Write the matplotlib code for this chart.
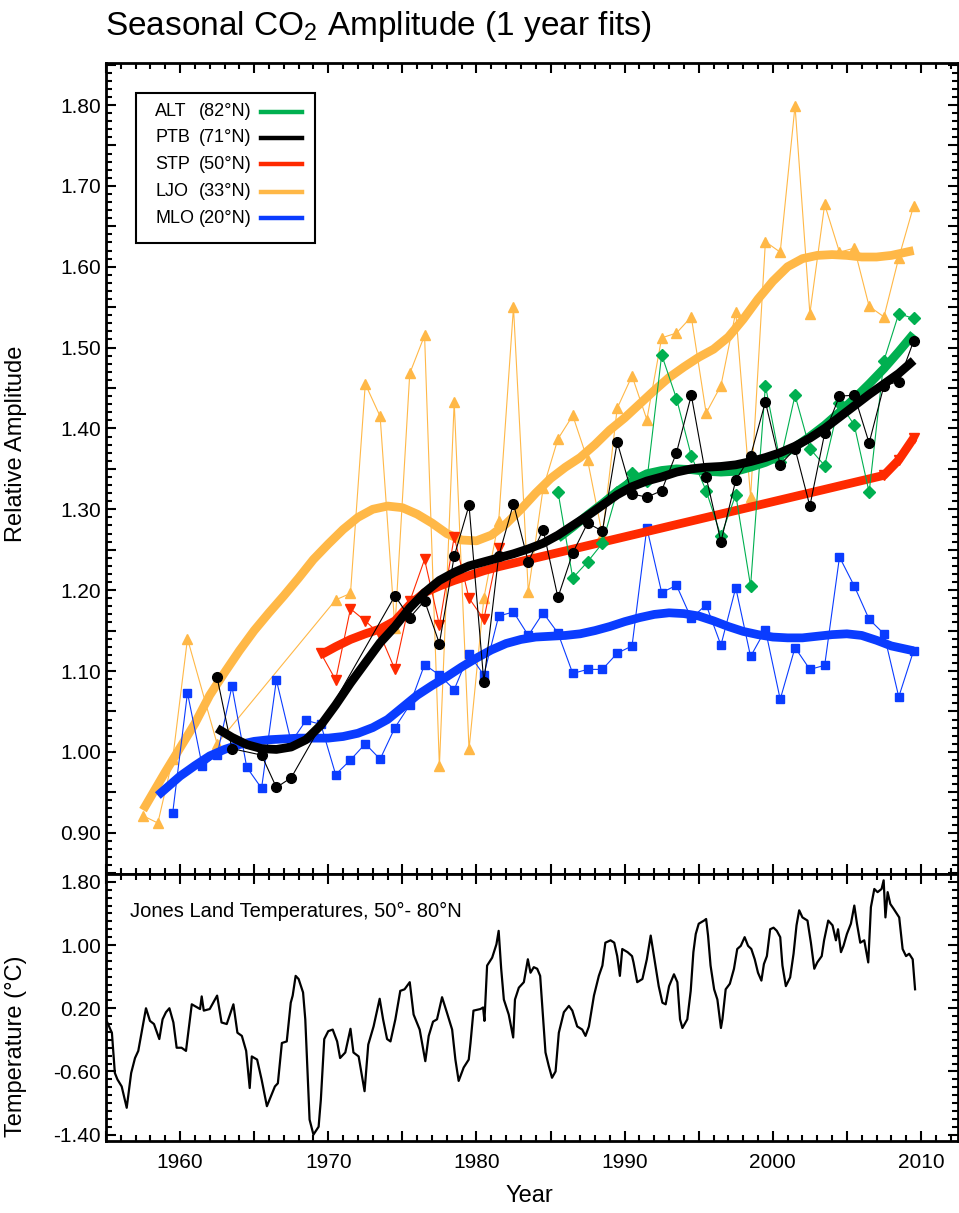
import numpy as np
import matplotlib
matplotlib.use('Agg')
from matplotlib import pyplot as plt
from matplotlib.ticker import MultipleLocator, FixedLocator, FuncFormatter
from matplotlib.lines import Line2D
from matplotlib.patches import Rectangle

plt.rcParams['font.family'] = 'Liberation Sans'
plt.rcParams['mathtext.fontset'] = 'custom'
plt.rcParams['mathtext.rm'] = 'Liberation Sans'

# ---- annual amplitudes (year centres) ----
ljo_yr = [1957.5, 1958.5, 1959.5, 1960.5, 1962.5, 1970.5, 1971.5, 1972.5, 1973.5, 1974.5,
          1975.5, 1976.5, 1977.5, 1978.5, 1979.5, 1980.5, 1981.5, 1982.5, 1983.5, 1984.5,
          1985.5, 1986.5, 1987.5, 1988.5, 1989.5, 1990.5, 1991.5, 1992.5, 1993.5, 1994.5,
          1995.5, 1996.5, 1997.5, 1998.5, 1999.5, 2000.5, 2001.5, 2002.5, 2003.5, 2004.5,
          2005.5, 2006.5, 2007.5, 2008.5, 2009.5]
ljo_val = [0.921, 0.912, 0.991, 1.140, 1.010, 1.188, 1.196, 1.455, 1.415, 1.153,
           1.468, 1.515, 0.982, 1.433, 1.003, 1.190, 1.285, 1.550, 1.198, 1.326,
           1.387, 1.416, 1.361, 1.268, 1.425, 1.465, 1.411, 1.512, 1.518, 1.538,
           1.419, 1.453, 1.544, 1.315, 1.631, 1.618, 1.799, 1.542, 1.677, 1.618,
           1.623, 1.551, 1.538, 1.611, 1.675]

mlo_yr = [1959.5, 1960.5, 1961.5, 1962.5, 1963.5, 1964.5, 1965.5, 1966.5, 1967.5, 1968.5,
          1969.5, 1970.5, 1971.5, 1972.5, 1973.5, 1974.5, 1975.5, 1976.5, 1977.5, 1978.5,
          1979.5, 1980.5, 1981.5, 1982.5, 1983.5, 1984.5, 1985.5, 1986.5, 1987.5, 1988.5,
          1989.5, 1990.5, 1991.5, 1992.5, 1993.5, 1994.5, 1995.5, 1996.5, 1997.5, 1998.5,
          1999.5, 2000.5, 2001.5, 2002.5, 2003.5, 2004.5, 2005.5, 2006.5, 2007.5, 2008.5,
          2009.5]
mlo_val = [0.924, 1.073, 0.982, 0.996, 1.081, 0.981, 0.955, 1.089, 1.012, 1.039,
           1.034, 0.972, 0.990, 1.010, 0.991, 1.030, 1.058, 1.108, 1.095, 1.077,
           1.121, 1.095, 1.168, 1.173, 1.144, 1.172, 1.147, 1.097, 1.102, 1.102,
           1.122, 1.131, 1.277, 1.197, 1.206, 1.165, 1.182, 1.132, 1.203, 1.118,
           1.151, 1.065, 1.129, 1.102, 1.107, 1.241, 1.205, 1.164, 1.146, 1.068,
           1.125]

stp_yr = [1969.5, 1970.5, 1971.5, 1972.5, 1973.5, 1974.5, 1975.5, 1976.5, 1977.5, 1978.5,
          1979.5, 1980.5, 1981.5, 2007.5, 2008.5, 2009.5]
stp_val = [1.122, 1.089, 1.177, 1.162, 1.145, 1.102, 1.186, 1.238, 1.157, 1.266,
           1.190, 1.164, 1.252, 1.342, 1.361, 1.388]

ptb_yr = [1962.5, 1963.5, 1965.5, 1966.5, 1967.5, 1974.5, 1975.5, 1976.5, 1977.5, 1978.5,
          1979.5, 1980.5, 1981.5, 1982.5, 1983.5, 1984.5, 1985.5, 1986.5, 1987.5, 1988.5,
          1989.5, 1990.5, 1991.5, 1992.5, 1993.5, 1994.5, 1995.5, 1996.5, 1997.5, 1998.5,
          1999.5, 2000.5, 2001.5, 2002.5, 2003.5, 2004.5, 2005.5, 2006.5, 2007.5, 2008.5,
          2009.5]
ptb_val = [1.092, 1.004, 0.996, 0.956, 0.968, 1.193, 1.166, 1.187, 1.134, 1.242,
           1.305, 1.086, 1.242, 1.307, 1.235, 1.275, 1.191, 1.246, 1.283, 1.273,
           1.383, 1.319, 1.315, 1.323, 1.370, 1.441, 1.340, 1.260, 1.336, 1.366,
           1.433, 1.355, 1.375, 1.304, 1.394, 1.440, 1.441, 1.382, 1.453, 1.458,
           1.508]

alt_yr = [1985.5, 1986.5, 1987.5, 1988.5, 1989.5, 1990.5, 1991.5, 1992.5, 1993.5, 1994.5,
          1995.5, 1996.5, 1997.5, 1998.5, 1999.5, 2000.5, 2001.5, 2002.5, 2003.5, 2004.5,
          2005.5, 2006.5, 2007.5, 2008.5, 2009.5]
alt_val = [1.322, 1.215, 1.235, 1.258, 1.322, 1.345, 1.335, 1.491, 1.437, 1.366,
           1.323, 1.267, 1.318, 1.205, 1.453, 1.359, 1.441, 1.375, 1.354, 1.432,
           1.404, 1.321, 1.484, 1.542, 1.536]

# ---- smooth fits ----
ljo_fit_yr = [1957.5, 1959, 1960, 1961, 1962, 1963, 1964, 1965, 1966, 1967, 1968, 1969,
              1970, 1971, 1972, 1973, 1974, 1975, 1976, 1977, 1978, 1979, 1980, 1981,
              1982, 1983, 1984, 1985, 1986, 1987, 1988, 1989, 1990, 1991, 1992, 1993,
              1994, 1995, 1996, 1997, 1998, 1999, 2000, 2001, 2002, 2003, 2004, 2005,
              2006, 2007, 2008, 2009.5]
ljo_fit = [0.928, 0.975, 1.005, 1.035, 1.070, 1.098, 1.125, 1.150, 1.172, 1.193, 1.215, 1.238,
           1.257, 1.275, 1.290, 1.300, 1.304, 1.302, 1.294, 1.283, 1.270, 1.262, 1.261, 1.268,
           1.282, 1.300, 1.320, 1.338, 1.352, 1.364, 1.380, 1.398, 1.413, 1.430, 1.447, 1.463,
           1.476, 1.488, 1.498, 1.513, 1.535, 1.560, 1.582, 1.600, 1.610, 1.614, 1.615, 1.614,
           1.612, 1.612, 1.614, 1.620]

mlo_fit_yr = [1958.5, 1960, 1961, 1962, 1963, 1964, 1965, 1966, 1967, 1968, 1969, 1970,
              1971, 1972, 1973, 1974, 1975, 1976, 1977, 1978, 1979, 1980, 1981, 1982,
              1983, 1984, 1985, 1986, 1987, 1988, 1989, 1990, 1991, 1992, 1993, 1994,
              1995, 1996, 1997, 1998, 1999, 2000, 2001, 2002, 2003, 2004, 2005, 2006,
              2007, 2008, 2009.5]
mlo_fit = [0.946, 0.970, 0.983, 0.995, 1.003, 1.009, 1.013, 1.015, 1.016, 1.017, 1.017, 1.017,
           1.019, 1.023, 1.030, 1.040, 1.055, 1.070, 1.082, 1.093, 1.105, 1.116, 1.126, 1.134,
           1.139, 1.142, 1.143, 1.144, 1.146, 1.150, 1.155, 1.161, 1.166, 1.170, 1.172, 1.171,
           1.168, 1.162, 1.155, 1.149, 1.145, 1.142, 1.141, 1.141, 1.143, 1.145, 1.146, 1.144,
           1.138, 1.131, 1.125]

stp_fit_yr = [1969.5, 1970.5, 1971.5, 1972.5, 1973.5, 1974.5, 1975.5, 1976.5, 1977.5,
              1978.5, 1979.5, 1980.5, 1981.5, 2007.5, 2008.5, 2009.5]
stp_fit = [1.120, 1.130, 1.139, 1.146, 1.152, 1.162, 1.182, 1.197, 1.205,
           1.212, 1.218, 1.224, 1.229, 1.342, 1.361, 1.388]

ptb_fit_yr = [1962.5, 1963.5, 1964.5, 1965.5, 1966.5, 1967.5, 1968.5, 1969.5, 1970.5,
              1971.5, 1972.5, 1973.5, 1974.5, 1975.5, 1976.5, 1977.5, 1978.5, 1979.5,
              1980.5, 1981.5, 1982.5, 1983.5, 1984.5, 1985.5, 1986.5, 1987.5, 1988.5,
              1989.5, 1990.5, 1991.5, 1992.5, 1993.5, 1994.5, 1995.5, 1996.5, 1997.5,
              1998.5, 1999.5, 2000.5, 2001.5, 2002.5, 2003.5, 2004.5, 2005.5, 2006.5,
              2007.5, 2008.5, 2009.5]
ptb_fit = [1.029, 1.018, 1.009, 1.004, 1.003, 1.006, 1.015, 1.033, 1.058,
           1.085, 1.110, 1.135, 1.155, 1.178, 1.197, 1.212, 1.222, 1.230,
           1.235, 1.240, 1.245, 1.251, 1.258, 1.268, 1.280, 1.292, 1.305,
           1.318, 1.328, 1.335, 1.340, 1.346, 1.350, 1.352, 1.353, 1.355,
           1.359, 1.364, 1.370, 1.378, 1.388, 1.400, 1.414, 1.428, 1.442,
           1.455, 1.468, 1.484]

alt_fit_yr = [1985.5, 1986.5, 1987.5, 1988.5, 1989.5, 1990.5, 1991.5, 1992.5, 1993.5,
              1994.5, 1995.5, 1996.5, 1997.5, 1998.5, 1999.5, 2000.5, 2001.5, 2002.5,
              2003.5, 2004.5, 2005.5, 2006.5, 2007.5, 2008.5, 2009.5]
alt_fit = [1.264, 1.278, 1.293, 1.307, 1.322, 1.335, 1.344, 1.348, 1.350,
           1.349, 1.347, 1.346, 1.347, 1.352, 1.358, 1.366, 1.377, 1.390,
           1.404, 1.420, 1.437, 1.455, 1.474, 1.495, 1.517]

# ---- Jones land temperatures 50-80N (smoothed anomaly) ----
temp_yr = [1955.09, 1955.40, 1955.60, 1955.77, 1956.06, 1956.40, 1956.70, 1956.96, 1957.18, 1957.40,
           1957.70, 1957.97, 1958.24, 1958.60, 1958.82, 1959.05, 1959.28, 1959.55, 1959.77, 1960.10,
           1960.40, 1960.79, 1961.35, 1961.46, 1961.60, 1962.00, 1962.50, 1962.80, 1963.15, 1963.60,
           1963.87, 1964.17, 1964.46, 1964.70, 1964.84, 1965.20, 1965.50, 1965.86, 1966.10, 1966.40,
           1966.60, 1966.87, 1967.20, 1967.47, 1967.60, 1967.80, 1968.00, 1968.30, 1968.45, 1968.74,
           1969.00, 1969.35, 1969.50, 1969.73, 1970.00, 1970.30, 1970.60, 1970.80, 1971.15, 1971.50,
           1971.70, 1972.05, 1972.45, 1972.70, 1973.06, 1973.47, 1973.70, 1973.97, 1974.20, 1974.53,
           1974.86, 1975.15, 1975.50, 1975.76, 1976.17, 1976.55, 1976.78, 1977.07, 1977.34, 1977.68,
           1978.00, 1978.36, 1978.58, 1978.80, 1979.14, 1979.48, 1979.60, 1979.80, 1980.27, 1980.45,
           1980.54, 1980.72, 1981.06, 1981.35, 1981.50, 1981.67, 1981.85, 1982.18, 1982.48, 1982.60,
           1982.86, 1983.20, 1983.47, 1983.65, 1983.87, 1984.10, 1984.30, 1984.66, 1984.88, 1985.10,
           1985.34, 1985.56, 1985.90, 1986.24, 1986.47, 1986.80, 1987.14, 1987.36, 1987.59, 1987.93,
           1988.26, 1988.50, 1988.70, 1989.05, 1989.30, 1989.50, 1989.68, 1989.84, 1990.20, 1990.50,
           1990.60, 1990.85, 1991.20, 1991.50, 1991.76, 1991.98, 1992.30, 1992.55, 1992.77, 1993.00,
           1993.33, 1993.56, 1993.74, 1993.90, 1994.23, 1994.46, 1994.64, 1994.80, 1995.00, 1995.36,
           1995.50, 1995.63, 1995.80, 1996.04, 1996.26, 1996.50, 1996.60, 1996.82, 1997.10, 1997.38,
           1997.60, 1997.84, 1998.10, 1998.33, 1998.55, 1998.78, 1999.00, 1999.23, 1999.40, 1999.60,
           1999.82, 2000.05, 2000.27, 2000.50, 2000.65, 2000.88, 2001.17, 2001.40, 2001.60, 2001.78,
           2002.00, 2002.34, 2002.57, 2002.80, 2003.00, 2003.30, 2003.46, 2003.74, 2004.03, 2004.26,
           2004.40, 2004.60, 2004.77, 2005.00, 2005.27, 2005.50, 2005.68, 2005.90, 2006.17, 2006.44,
           2006.62, 2006.85, 2007.07, 2007.34, 2007.48, 2007.60, 2007.75, 2007.93, 2008.15, 2008.53,
           2008.76, 2008.99, 2009.20, 2009.44, 2009.60]
temp_val = [0.02, -0.11, -0.62, -0.70, -0.79, -1.06, -0.62, -0.43, -0.34, -0.11,
            0.20, 0.04, 0.00, -0.19, 0.06, 0.15, 0.20, 0.02, -0.30, -0.30,
            -0.34, 0.25, 0.19, 0.35, 0.17, 0.19, 0.36, 0.02, 0.00, 0.25,
            -0.11, -0.15, -0.34, -0.81, -0.41, -0.45, -0.70, -1.04, -0.93, -0.79,
            -0.75, -0.24, -0.22, 0.27, 0.36, 0.61, 0.57, 0.40, 0.06, -1.21,
            -1.40, -1.30, -0.96, -0.19, -0.09, -0.07, -0.22, -0.43, -0.36, -0.06,
            -0.36, -0.41, -0.85, -0.26, -0.03, 0.32, 0.06, -0.19, -0.22, 0.06,
            0.42, 0.44, 0.53, 0.12, -0.07, -0.47, -0.15, 0.03, 0.06, 0.34,
            0.15, -0.07, -0.45, -0.72, -0.55, -0.45, -0.24, 0.17, 0.19, 0.21,
            0.04, 0.74, 0.84, 1.01, 1.18, 0.70, 0.31, 0.12, -0.17, 0.31,
            0.46, 0.53, 0.82, 0.65, 0.72, 0.70, 0.61, -0.36, -0.53, -0.68,
            -0.60, -0.11, 0.15, 0.23, 0.17, -0.03, -0.07, -0.15, -0.03, 0.36,
            0.61, 0.74, 1.03, 1.06, 1.03, 0.86, 0.61, 0.95, 0.91, 0.86,
            0.78, 0.53, 0.57, 0.82, 1.12, 0.86, 0.48, 0.27, 0.25, 0.48,
            0.63, 0.53, 0.06, -0.05, 0.06, 0.42, 0.91, 1.14, 1.27, 1.31,
            1.33, 1.12, 0.74, 0.44, 0.31, -0.05, 0.06, 0.44, 0.51, 0.70,
            0.95, 0.99, 1.10, 0.99, 0.95, 0.82, 0.65, 0.55, 0.76, 0.86,
            1.20, 1.22, 1.18, 1.10, 0.74, 0.48, 0.59, 0.89, 1.25, 1.44,
            1.35, 1.31, 1.03, 0.70, 0.78, 0.86, 1.06, 1.31, 1.25, 1.06,
            1.20, 0.91, 0.99, 1.14, 1.27, 1.50, 1.27, 1.03, 1.06, 0.78,
            1.48, 1.71, 1.67, 1.71, 1.82, 1.35, 1.67, 1.52, 1.46, 1.35,
            0.95, 0.86, 0.89, 0.82, 0.44]

stations = ['ALT', 'PTB', 'STP', 'LJO', 'MLO']
latitudes = ['(82°N)', '(71°N)', '(50°N)', '(33°N)', '(20°N)']
colors = {'ALT': '#00b050', 'PTB': 'black', 'STP': '#ff2a00', 'LJO': '#ffb847', 'MLO': '#0a3cff'}
markers = {'ALT': 'D', 'PTB': 'o', 'STP': 'v', 'LJO': '^', 'MLO': 's'}
msize = {'ALT': 6.5, 'PTB': 7, 'STP': 7.5, 'LJO': 7.5, 'MLO': 6}

series = {
    'LJO': (ljo_yr, ljo_val, ljo_fit_yr, ljo_fit),
    'MLO': (mlo_yr, mlo_val, mlo_fit_yr, mlo_fit),
    'STP': (stp_yr, stp_val, stp_fit_yr, stp_fit),
    'ALT': (alt_yr, alt_val, alt_fit_yr, alt_fit),
    'PTB': (ptb_yr, ptb_val, ptb_fit_yr, ptb_fit),
}

fig = plt.figure(figsize=(9.59, 12.13), dpi=100)
ax1 = fig.add_axes([0.1105, 0.2795, 0.8885, 0.6686])
ax2 = fig.add_axes([0.1105, 0.0594, 0.8885, 0.2201])

z = 2
for name, (yr, val, fyr, fval) in series.items():
    c = colors[name]
    yr = np.array(yr)
    val = np.array(val)
    # thin connecting line, broken where the record has a long gap (STP)
    breaks = np.where(np.diff(yr) > 20)[0] + 1
    for seg_y, seg_v in zip(np.split(yr, breaks), np.split(val, breaks)):
        ax1.plot(seg_y, seg_v, color=c, lw=0.8, zorder=z)
    ax1.plot(yr, val, ls='none', marker=markers[name], ms=msize[name],
             color=c, mec=c, zorder=z + 1)
    ax1.plot(fyr, fval, color=c, lw=6.3, solid_capstyle='butt', zorder=z + 2)
    z += 3

ax1.set_xlim(1955, 2012.5)
ax1.set_ylim(0.849, 1.852)
ax1.xaxis.set_major_locator(MultipleLocator(5))
ax1.xaxis.set_minor_locator(MultipleLocator(1))
ax1.yaxis.set_major_locator(MultipleLocator(0.05))
ax1.yaxis.set_minor_locator(MultipleLocator(0.01))
ax1.yaxis.set_major_formatter(FuncFormatter(
    lambda v, p: f'{v:.2f}' if abs(v * 10 - round(v * 10)) < 1e-6 else ''))
ax1.tick_params(labelbottom=False)
ax1.set_ylabel('Relative Amplitude', fontsize=17)
ax1.yaxis.set_label_coords(-0.093, 0.53)

# legend box drawn by hand (IDL style)
ax1.add_patch(Rectangle((0.0353, 0.778), 0.2103, 0.1855, transform=ax1.transAxes,
                        fill=False, lw=1.5, ec='black', zorder=30))
leg_y = [0.9396, 0.9075, 0.8754, 0.8409, 0.8088]
for st, lat, yy in zip(stations, latitudes, leg_y):
    ax1.text(0.0576, yy, st, transform=ax1.transAxes, fontsize=13, va='center', zorder=31)
    ax1.text(0.1093, yy, lat, transform=ax1.transAxes, fontsize=13, va='center', zorder=31)
    ax1.add_line(Line2D([0.1821, 0.2303], [yy, yy], transform=ax1.transAxes,
                        color=colors[st], lw=3.2, zorder=31))

ax2.plot(temp_yr, temp_val, color='black', lw=1.6)
ax2.set_xlim(1955, 2012.5)
ax2.set_ylim(-1.48, 1.90)
ax2.xaxis.set_major_locator(MultipleLocator(5))
ax2.xaxis.set_minor_locator(MultipleLocator(1))
ax2.xaxis.set_major_formatter(FuncFormatter(lambda v, p: f'{v:.0f}' if v % 10 == 0 else ''))
ax2.yaxis.set_major_locator(FixedLocator([-1.4, -0.6, 0.2, 1.0, 1.8]))
ax2.yaxis.set_minor_locator(MultipleLocator(0.1))
ax2.yaxis.set_major_formatter(FuncFormatter(lambda v, p: f'{v:.2f}'))
ax2.set_ylabel('Temperature (°C)', fontsize=17)
ax2.yaxis.set_label_coords(-0.093, 0.355)
ax2.set_xlabel('Year', fontsize=17)
ax2.xaxis.set_label_coords(0.497, -0.165)
ax2.text(0.028, 0.86, 'Jones Land Temperatures, 50°- 80°N', transform=ax2.transAxes,
         fontsize=14.5, va='center')

for ax in (ax1, ax2):
    for sp in ax.spines.values():
        sp.set_linewidth(2)
    ax.tick_params(which='both', direction='in', top=True, right=True, width=1.5,
                   labelsize=15)
    ax.tick_params(which='major', length=7)
    ax.tick_params(which='minor', length=4)
ax2.tick_params(axis='x', which='major', pad=9)

fig.text(0.11, 1 - 27 / 1213, r'Seasonal CO$_\mathregular{2}$ Amplitude (1 year fits)',
         fontsize=24, va='center', ha='left')

fig.savefig('out.png', dpi=100)
